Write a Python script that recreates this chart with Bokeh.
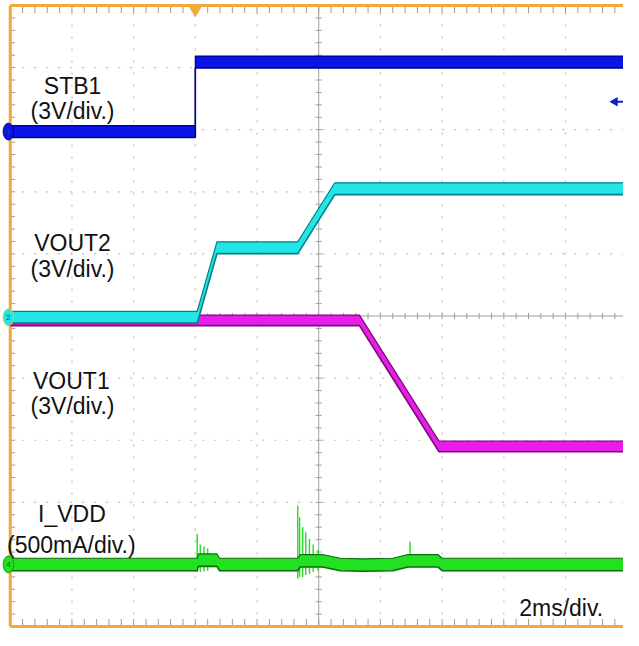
import numpy as np
from bokeh.plotting import figure
from bokeh.models import Range1d
from bokeh.core.properties import value
from bokeh.embed import file_html
from bokeh.resources import INLINE

# ---- data (time in divisions, 2 ms/div; level in divisions from screen bottom) ----
stb1_t = [0.0, 3.0, 3.0, 9.94]
stb1_v = [7.97, 7.97, 9.09, 9.09]

vout2_t = [0.0, 3.03, 3.35, 4.66, 5.26, 9.94]
vout2_v = [4.98, 4.98, 6.10, 6.10, 7.05, 7.05]

vout1_t = [0.0, 5.66, 6.95, 9.94]
vout1_v = [4.93, 4.93, 2.90, 2.90]

ivdd_t = [0.0, 3.03, 3.05, 3.35, 3.39, 4.66, 4.70, 5.06, 5.35, 5.70, 6.20, 6.45, 6.93, 7.00, 9.94]
ivdd_v = [1.00, 1.00, 1.07, 1.07, 1.00, 1.00, 1.06, 1.06, 1.00, 0.99, 1.00, 1.06, 1.06, 1.00, 1.00]

spike_t = [3.03, 3.08, 3.14, 3.20, 4.66, 4.69, 4.74, 4.79, 4.85, 4.91, 4.99, 6.48]
spike_top = [1.49, 1.32, 1.29, 1.26, 1.95, 1.76, 1.60, 1.52, 1.41, 1.32, 1.24, 1.37]
spike_bot = [0.88, 0.88, 0.89, 0.90, 0.77, 0.80, 0.80, 0.83, 0.85, 0.88, 0.90, 0.95]

label_text = ["STB1", "(3V/div.)", "VOUT2", "(3V/div.)", "VOUT1", "(3V/div.)",
              "I_VDD", "(500mA/div.)", "2ms/div."]
label_x = [1.01, 1.01, 1.01, 1.01, 0.99, 1.01, 1.00, 0.99, 8.93]
label_y = [8.70, 8.30, 6.17, 5.76, 3.96, 3.55, 1.82, 1.32, 0.30]

chan_marks = ["1", "2", "4"]
chan_levels = [7.97, 4.98, 1.00]

XMAX = 10.0

p = figure(width=623, height=630, output_backend="svg", toolbar_location=None,
           x_range=Range1d(-0.158, 9.94), y_range=Range1d(-0.063, 10.08),
           x_axis_location=None, y_axis_location=None, min_border=0)
p.outline_line_color = None
p.background_fill_color = "white"
p.grid.visible = False

# ---- graticule ----
gcol = "#bdbdbd"
divs = [d for d in range(1, 10) if d != 5]
p.segment(x0=divs, y0=[0] * len(divs), x1=divs, y1=[10] * len(divs),
          line_color=gcol, line_width=1.2, line_dash="2 10")
p.segment(x0=[0] * len(divs), y0=divs, x1=[XMAX] * len(divs), y1=divs,
          line_color=gcol, line_width=1.2, line_dash="2 10")

ccol = "#a0a0a0"
p.segment(x0=[5, 0], y0=[0, 5], x1=[5, XMAX], y1=[10, 5], line_color=ccol, line_width=1)
mx = np.arange(0, 10.01, 0.2)
my = np.arange(0, 10.01, 0.2)
p.segment(x0=mx, y0=5 - 0.05, x1=mx, y1=5 + 0.05, line_color=ccol, line_width=1)
p.segment(x0=5 - 0.05, y0=my, x1=5 + 0.05, y1=my, line_color=ccol, line_width=1)

tcol = "#9a9a9a"
p.segment(x0=mx, y0=10, x1=mx, y1=9.88, line_color=tcol, line_width=1)
p.segment(x0=mx, y0=0, x1=mx, y1=0.12, line_color=tcol, line_width=1)
p.segment(x0=0, y0=my, x1=0.08, y1=my, line_color=tcol, line_width=1)

ocol = "#f2a93b"
p.line([0, 10], [10, 10], line_color=ocol, line_width=3)
p.line([0, 10], [0, 0], line_color=ocol, line_width=3)
p.line([0, 0], [0, 10], line_color=ocol, line_width=3)
p.scatter([3.0], [9.92], marker="inverted_triangle", size=11,
          fill_color=ocol, line_color=ocol)


def band(t, v, h, fill, edge):
    t = np.asarray(t, float)
    v = np.asarray(v, float)
    p.varea(x=t, y1=v - h, y2=v + h, fill_color=fill)
    p.line(t, v + h, line_color=edge, line_width=1.2)
    p.line(t, v - h, line_color=edge, line_width=1.6)


# ---- traces ----
band(stb1_t, stb1_v, 0.095, "#0a14e6", "#00008a")
band(vout1_t, vout1_v, 0.085, "#e61ee6", "#7a0a7a")
band(vout2_t, vout2_v, 0.095, "#22e6e6", "#007f86")
p.segment(x0=spike_t, y0=spike_bot, x1=spike_t, y1=spike_top,
          line_color="#22dd22", line_width=1.4)
band(ivdd_t, ivdd_v, 0.10, "#22e022", "#067006")

# blue reference arrow at right
p.segment(x0=[9.80], y0=[8.45], x1=[9.94], y1=[8.45], line_color="#1020d0", line_width=2)
p.scatter([9.80], [8.45], marker="triangle", angle=np.pi / 2, size=8,
          fill_color="#1020d0", line_color="#1020d0")

# channel markers
p.ellipse(x=[-0.03] * 3, y=chan_levels, width=0.17, height=0.27,
          fill_color=["#0a14e6", "#22e6e6", "#22e022"],
          line_color=["#00008a", "#e0c040", "#10a010"], line_width=1)
p.text(x=[-0.03] * 3, y=chan_levels, text=chan_marks, text_font_size="8px",
       text_align="center", text_baseline="middle", text_color="#404040",
       text_font=value("Liberation Sans"))

# labels
p.text(x=label_x, y=label_y, text=label_text, text_font=value("Liberation Sans"),
       text_font_size="23px", text_align="center", text_baseline="alphabetic",
       text_color="#111111")

open("out.html", "w").write(file_html(p, INLINE))
